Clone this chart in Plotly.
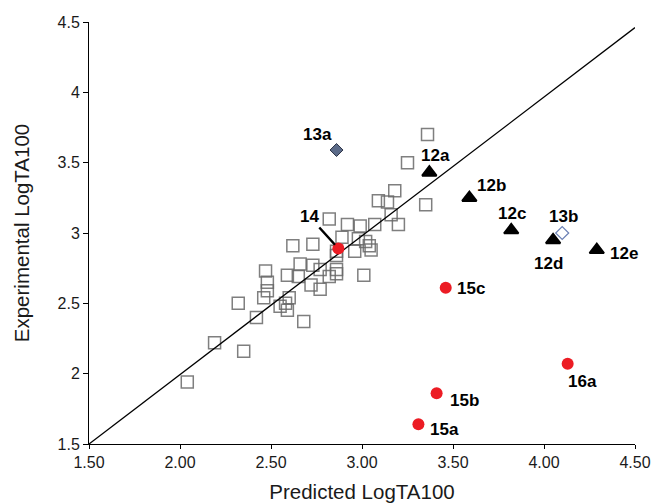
import plotly.graph_objects as go

# Training-set compounds: predicted vs experimental LogTA100
train_pred = [2.04, 2.19, 2.35, 2.32, 2.42, 2.47, 2.48, 2.48, 2.46, 2.55,
              2.58, 2.60, 2.59, 2.68, 2.59, 2.66, 2.65, 2.73, 2.72, 2.77,
              2.77, 2.82, 2.86, 2.86, 2.62, 2.73, 2.82, 2.89, 2.86, 2.96,
              2.98, 3.02, 3.04, 3.05, 3.01, 2.92, 2.99, 3.07, 3.20, 3.16,
              3.09, 3.14, 3.18, 3.35, 3.25, 3.36, 2.86]
train_exp = [1.94, 2.22, 2.16, 2.50, 2.40, 2.73, 2.65, 2.59, 2.54, 2.48,
             2.50, 2.54, 2.45, 2.37, 2.70, 2.78, 2.69, 2.77, 2.63, 2.60,
             2.74, 2.69, 2.74, 2.71, 2.91, 2.92, 3.10, 2.97, 2.87, 2.87,
             2.96, 2.94, 2.91, 2.88, 2.70, 3.06, 3.05, 3.06, 3.06, 3.13,
             3.23, 3.22, 3.30, 3.20, 3.50, 3.70, 2.84]

# Series 12 (filled triangles)
s12_names = ["12a", "12b", "12c", "12d", "12e"]
s12_pred = [3.37, 3.59, 3.82, 4.05, 4.29]
s12_exp = [3.43, 3.25, 3.02, 2.95, 2.88]

# Compound 13a (filled diamond) and 13b (open diamond)
s13a_pred = [2.86]
s13a_exp = [3.59]
s13b_pred = [4.10]
s13b_exp = [3.00]

# Series 14-16 (red circles)
s_red_names = ["14", "15c", "16a", "15b", "15a"]
s_red_pred = [2.87, 3.46, 4.13, 3.41, 3.31]
s_red_exp = [2.89, 2.61, 2.07, 1.86, 1.64]

# Identity reference line
line_x = [1.5, 4.5]
line_y = [1.5, 4.46]

x_ticks = [1.5, 2.0, 2.5, 3.0, 3.5, 4.0, 4.5]
y_ticks = [1.5, 2.0, 2.5, 3.0, 3.5, 4.0, 4.5]

FONT = "Liberation Sans, Arial, Helvetica, sans-serif"

fig = go.Figure()

fig.add_trace(go.Scatter(
    x=train_pred, y=train_exp, mode="markers",
    marker=dict(symbol="square-open", size=12, color="rgba(105,105,105,0.85)",
                line=dict(width=1.5)),
    hoverinfo="x+y", showlegend=False))

fig.add_trace(go.Scatter(
    x=line_x, y=line_y, mode="lines",
    line=dict(color="black", width=1.3), hoverinfo="skip", showlegend=False))

fig.add_trace(go.Scatter(
    x=s12_pred, y=s12_exp, mode="markers",
    marker=dict(symbol="triangle-up", size=12.5, color="black",
                line=dict(color="black", width=2)),
    showlegend=False))

fig.add_trace(go.Scatter(
    x=s13a_pred, y=s13a_exp, mode="markers",
    marker=dict(symbol="diamond", size=10, color="#5b6a88",
                line=dict(color="#2e3547", width=1)),
    showlegend=False))

fig.add_trace(go.Scatter(
    x=s13b_pred, y=s13b_exp, mode="markers",
    marker=dict(symbol="diamond-open", size=10, color="#6b80b5",
                line=dict(width=1.2)),
    showlegend=False))

fig.add_trace(go.Scatter(
    x=s_red_pred, y=s_red_exp, mode="markers",
    marker=dict(symbol="circle", size=12, color="#ec1c24"),
    showlegend=False))

# Point labels: pixel offsets from each marker
label_font = dict(family=FONT, size=17, color="black", weight="bold")
offsets_12 = {"12a": (6, 17), "12b": (22, 12), "12c": (1, 17),
              "12d": (-5, -23), "12e": (27, -4)}
for name, px, py in zip(s12_names, s12_pred, s12_exp):
    dx, dy = offsets_12[name]
    fig.add_annotation(x=px, y=py, text=name, showarrow=False,
                       xshift=dx, yshift=dy, font=label_font)

fig.add_annotation(x=s13a_pred[0], y=s13a_exp[0], text="13a", showarrow=False,
                   xshift=-19, yshift=16, font=label_font)
fig.add_annotation(x=s13b_pred[0], y=s13b_exp[0], text="13b", showarrow=False,
                   xshift=1, yshift=17, font=label_font)

offsets_red = {"15c": (25, -1), "16a": (15, -18), "15b": (28, -7),
               "15a": (26, -5)}
for name, px, py in zip(s_red_names, s_red_pred, s_red_exp):
    if name == "14":
        fig.add_annotation(x=px, y=py, text=name, showarrow=True,
                           arrowhead=0, arrowwidth=2.5, arrowcolor="black",
                           ax=-29, ay=-32, standoff=5, font=label_font)
    else:
        dx, dy = offsets_red[name]
        fig.add_annotation(x=px, y=py, text=name, showarrow=False,
                           xshift=dx, yshift=dy, font=label_font)

axis_common = dict(
    showgrid=False, zeroline=False, showline=True, linecolor="black",
    linewidth=1, ticks="outside", tickcolor="black", automargin=False,
    tickfont=dict(family=FONT, size=16, color="#1a1a1a"),
)

fig.update_xaxes(
    range=[1.5, 4.5], tickvals=x_ticks,
    ticktext=[f"{v:.2f}" for v in x_ticks], ticklen=4,
    title=dict(text="Predicted LogTA100", standoff=14,
               font=dict(family=FONT, size=20.5, color="#1a1a1a")),
    **axis_common)
fig.update_yaxes(
    range=[1.5, 4.5], tickvals=y_ticks,
    ticktext=[f"{v:g}" for v in y_ticks], ticklen=5,
    title=dict(text="Experimental LogTA100", standoff=22,
               font=dict(family=FONT, size=20.5, color="#1a1a1a")),
    **axis_common)

fig.update_layout(
    width=654, height=504,
    margin=dict(l=89, r=19, t=22, b=60),
    plot_bgcolor="white", paper_bgcolor="white",
)

fig.write_html("out.html")
